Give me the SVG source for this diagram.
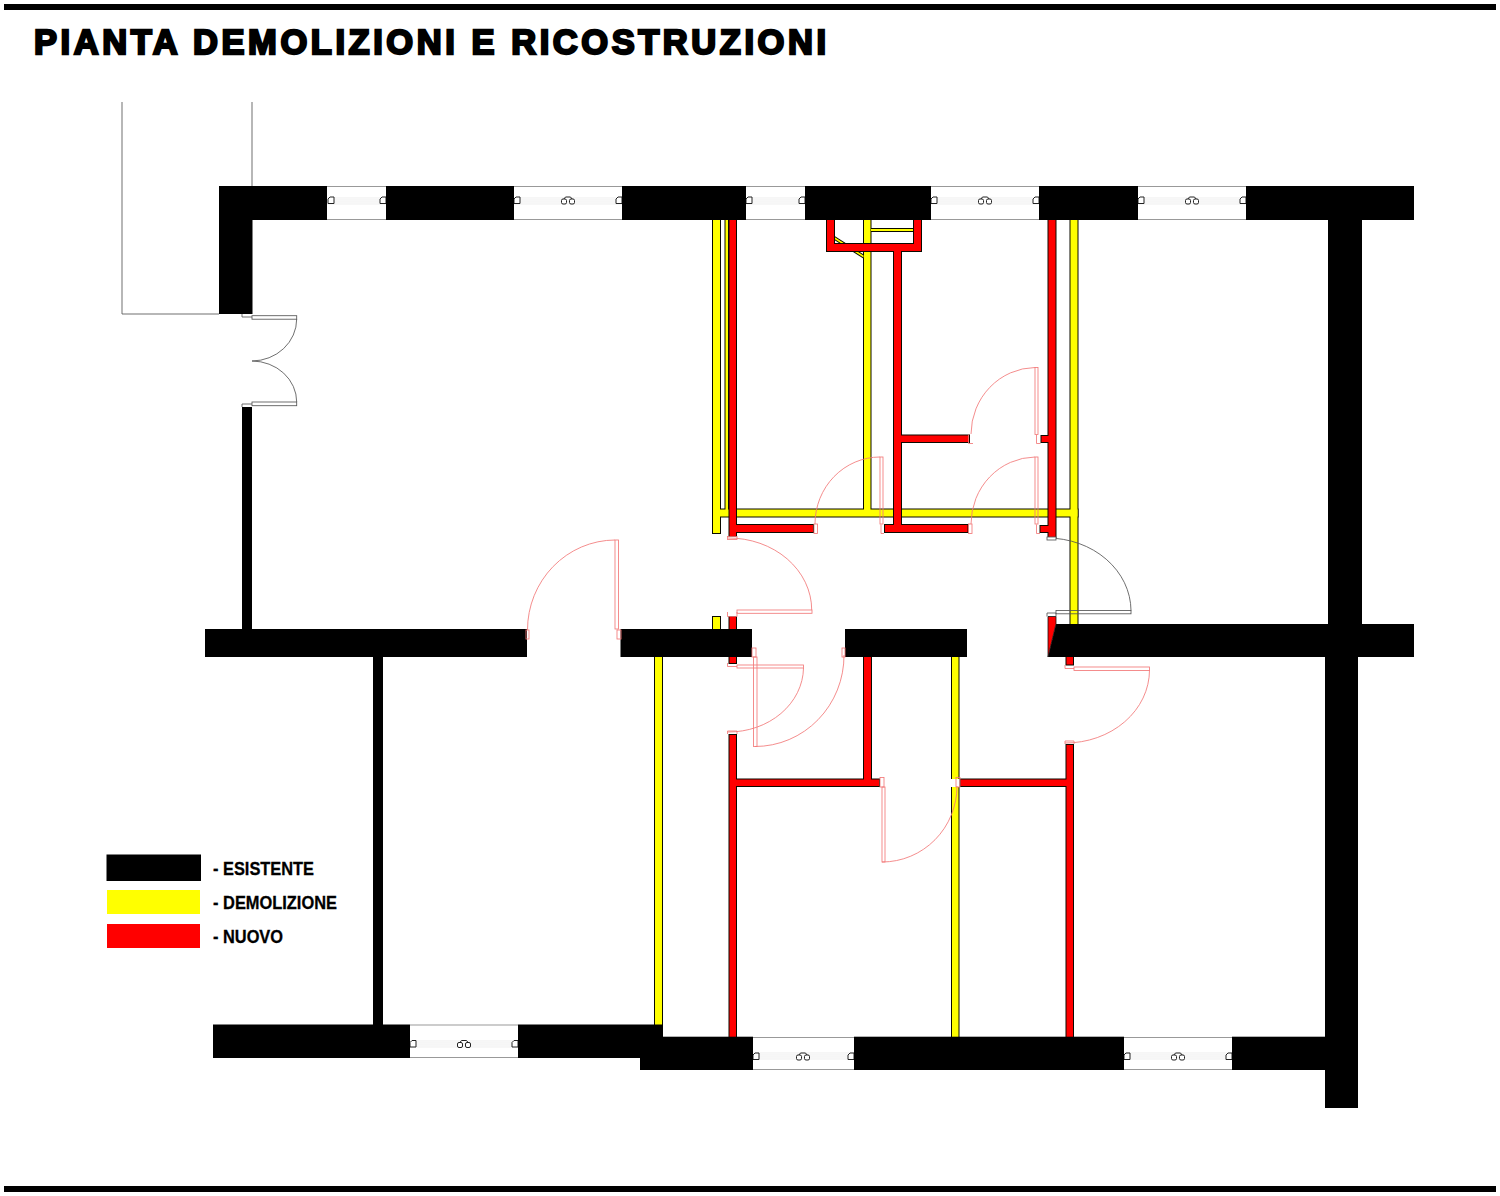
<svg xmlns="http://www.w3.org/2000/svg" xmlns:xlink="http://www.w3.org/1999/xlink" width="1500" height="1196" viewBox="0 0 1500 1196">
<style>
.k{fill:#000}
.y{fill:#ff0}
.r{fill:#f00}
.ol{stroke:#0a0a00;stroke-width:2;stroke-linejoin:miter}
.ds{fill:none;stroke:#f27878;stroke-width:.85}
.dk{fill:none;stroke:#555;stroke-width:.85}
.we{stroke:#999;stroke-width:1;fill:none}
.wl{stroke:#e2e2e2;stroke-width:.6;fill:none}
.hw{fill:#fff;stroke:#222;stroke-width:1}
.title{font-family:"Liberation Sans",Arial,sans-serif;font-weight:700;font-size:34.500px;fill:#000;stroke:#000;stroke-width:2.3px;stroke-linejoin:miter}
.leg{font-family:"Liberation Sans",Arial,sans-serif;font-weight:700;font-size:19px;fill:#000;stroke:#000;stroke-width:.3px}
</style>
<defs>
<path id="hinge" class="hw" d="M-3,-1.500 L-1,-3.500 L3,-3.500 L3,3 L-3,3 Z"/>
<g id="hinge2"><path class="hw" d="M-4.500,-1 L-2.500,-3.500 L2.500,-3.500 L4.500,-1"/><rect class="hw" x="-6.500" y="-1.500" width="5" height="5" rx="1.500"/><rect class="hw" x="1.500" y="-1.500" width="5" height="5" rx="1.500"/></g>
<g id="yw">
<rect x="713" y="220" width="7" height="313"/>
<rect x="725.500" y="220" width="2.500" height="290"/>
<rect x="864" y="220" width="6.500" height="295"/>
<rect x="713" y="509.500" width="364.500" height="7"/>
<rect x="1070.500" y="220" width="7" height="404"/>
<rect x="871" y="229" width="42" height="2"/>
<path d="M834.500,237 L863.500,255.500 L863.500,257.500 L834.500,239 Z"/>
<rect x="713" y="617" width="7" height="13"/>
<rect x="655" y="657" width="7" height="368"/>
<rect x="952" y="657" width="6.500" height="380"/>
</g>
<g id="rw">
<rect x="729.500" y="220" width="6.500" height="316"/>
<rect x="733" y="525" width="80" height="7"/>
<rect x="827" y="220" width="7" height="31"/>
<rect x="827" y="244" width="94" height="7"/>
<rect x="914" y="220" width="7" height="31"/>
<rect x="894" y="248" width="7" height="284"/>
<rect x="898" y="435.500" width="71" height="6.500"/>
<rect x="885" y="525" width="82.500" height="7"/>
<rect x="1048.500" y="220" width="7" height="317"/>
<rect x="1041.500" y="436" width="10" height="6"/>
<rect x="1040.500" y="526" width="10" height="6"/>
<rect x="729.500" y="617" width="6.500" height="46"/>
<rect x="729.500" y="735" width="6.500" height="302"/>
<rect x="733" y="779.500" width="146" height="6.500"/>
<rect x="864" y="657" width="7" height="125"/>
<rect x="960.500" y="779.500" width="108" height="6.500"/>
<rect x="1066.500" y="745" width="6.500" height="292"/>
<rect x="1066.500" y="657" width="6.500" height="7.500"/>
</g>
</defs>
<rect width="1500" height="1196" fill="#fff"/>
<rect class="k" x="4" y="4" width="1492" height="6"/>
<rect class="k" x="4" y="1186" width="1492" height="6"/>
<text class="title" x="34" y="53.500" textLength="792" lengthAdjust="spacing">PIANTA DEMOLIZIONI E RICOSTRUZIONI</text>

<g id="outer-lines" class="dk"><path d="M122,102 V314 H219"/><path d="M252,102 V186"/></g>

<g id="windows">
<g id="win1"><path class="we" d="M327,186.500 H386 M327,219.500 H386"/><path class="wl" d="M327,198 H386 M327,200 H386 M327,202 H386 M327,204 H386"/><use xlink:href="#hinge" x="331" y="200.500"/><use xlink:href="#hinge" x="383" y="200.500"/></g>
<g id="win2"><path class="we" d="M514,186.500 H622 M514,219.500 H622"/><path class="wl" d="M514,198 H622 M514,200 H622 M514,202 H622 M514,204 H622"/><use xlink:href="#hinge" x="517" y="200.500"/><use xlink:href="#hinge2" x="568" y="200.500"/><use xlink:href="#hinge" x="619" y="200.500"/></g>
<g id="win3"><path class="we" d="M746,186.500 H805 M746,219.500 H805"/><path class="wl" d="M746,198 H805 M746,200 H805 M746,202 H805 M746,204 H805"/><use xlink:href="#hinge" x="749" y="200.500"/><use xlink:href="#hinge" x="802" y="200.500"/></g>
<g id="win4"><path class="we" d="M931,186.500 H1039 M931,219.500 H1039"/><path class="wl" d="M931,198 H1039 M931,200 H1039 M931,202 H1039 M931,204 H1039"/><use xlink:href="#hinge" x="934" y="200.500"/><use xlink:href="#hinge2" x="985" y="200.500"/><use xlink:href="#hinge" x="1036" y="200.500"/></g>
<g id="win5"><path class="we" d="M1138,186.500 H1246 M1138,219.500 H1246"/><path class="wl" d="M1138,198 H1246 M1138,200 H1246 M1138,202 H1246 M1138,204 H1246"/><use xlink:href="#hinge" x="1141" y="200.500"/><use xlink:href="#hinge2" x="1192" y="200.500"/><use xlink:href="#hinge" x="1243" y="200.500"/></g>
<g id="win6"><path class="we" d="M410,1025 H518 M410,1057.500 H518"/><path class="wl" d="M410,1041 H518 M410,1043 H518 M410,1045 H518 M410,1047 H518"/><use xlink:href="#hinge" x="413" y="1044"/><use xlink:href="#hinge2" x="464" y="1044"/><use xlink:href="#hinge" x="515" y="1044"/></g>
<g id="win7"><path class="we" d="M753,1037.500 H854 M753,1069.500 H854"/><path class="wl" d="M753,1053 H854 M753,1055 H854 M753,1057 H854 M753,1059 H854"/><use xlink:href="#hinge" x="756" y="1056.500"/><use xlink:href="#hinge2" x="803" y="1056.500"/><use xlink:href="#hinge" x="851" y="1056.500"/></g>
<g id="win8"><path class="we" d="M1124,1037.500 H1232 M1124,1069.500 H1232"/><path class="wl" d="M1124,1053 H1232 M1124,1055 H1232 M1124,1057 H1232 M1124,1059 H1232"/><use xlink:href="#hinge" x="1127" y="1056.500"/><use xlink:href="#hinge2" x="1178" y="1056.500"/><use xlink:href="#hinge" x="1229" y="1056.500"/></g>
</g>

<g id="demolition-walls">
<use xlink:href="#yw" class="y ol"/>
<use xlink:href="#yw" class="y"/>
</g>
<g id="new-walls">
<use xlink:href="#rw" class="r ol"/>
<use xlink:href="#rw" class="r"/>
</g>
<rect id="door-gap" x="950" y="779" width="9.500" height="8" fill="#fff"/>

<g id="existing-walls" class="k">
<rect x="219" y="186" width="108" height="34"/>
<rect x="219" y="186" width="33.500" height="128"/>
<rect x="386" y="186" width="128" height="34"/>
<rect x="622" y="186" width="124" height="34"/>
<rect x="805" y="186" width="126" height="34"/>
<rect x="1039" y="186" width="99" height="34"/>
<rect x="1246" y="186" width="168" height="34"/>
<rect x="1328" y="220" width="34" height="404"/>
<rect x="242" y="407" width="10" height="222"/>
<rect x="205" y="629" width="322" height="28"/>
<rect x="620.500" y="629" width="131.500" height="28"/>
<rect x="845" y="629" width="122" height="28"/>
<path d="M1056,624 H1414 V657 H1048 Z"/>
<rect x="1325" y="657" width="33" height="451"/>
<rect x="373" y="657" width="10" height="368"/>
<rect x="213" y="1024.500" width="197" height="33.500"/>
<rect x="518" y="1024.500" width="145" height="33.500"/>
<rect x="640" y="1036.700" width="113" height="33.300"/>
<rect x="854" y="1036.700" width="270" height="33.300"/>
<rect x="1232" y="1036.700" width="93" height="33.300"/>
</g>
<path id="new-wedge" class="r" d="M1048,616.500 H1056 V624 L1048,657 Z" stroke="#111" stroke-width=".8"/>

<g id="doors-new" class="ds">
<g id="door-a"><rect x="615" y="540" width="3.500" height="89"/><path d="M615,540 A88,90 0 0 0 527.500,630"/><rect x="617" y="630" width="4" height="9"/><rect x="526" y="630" width="3" height="9"/></g>
<g id="door-b"><rect x="737" y="610" width="75" height="3.300"/><path d="M811.700,610 A83,72 0 0 0 728,538"/><rect x="727.500" y="536.500" width="9.500" height="3"/><path d="M727.500,612 V616.500 H737 V612"/></g>
<g id="door-c"><rect x="737" y="665" width="66.500" height="3"/><path d="M803.500,668 A75,65 0 0 1 728,732"/><path d="M727.500,663 V666.500 H737"/><path d="M727.500,734 V731 H737 V734"/></g>
<g id="door-d"><rect x="753.500" y="657" width="3.500" height="89.500"/><path d="M755,746.500 A89,91 0 0 0 844,655"/><rect x="752" y="648" width="4" height="9"/><rect x="842" y="648" width="3" height="9"/></g>
<g id="door-e"><rect x="882" y="787" width="3" height="75"/><path d="M882,862 A75,76 0 0 0 957,786"/><rect x="880" y="777.500" width="4" height="9.500"/><rect x="956" y="777.500" width="4" height="9.500"/></g>
<g id="door-f"><rect x="1074" y="667" width="75.500" height="3.500"/><path d="M1149.500,670 A84,73 0 0 1 1065,743"/><path d="M1065,665 V668.500 H1074"/><path d="M1065,744 V741 H1074 V744"/></g>
<g id="door-h"><rect x="1035" y="367.500" width="3" height="67"/><path d="M1035,367.500 A65,67 0 0 0 971,434"/><path d="M1040.500,443.500 H1036.500 V435"/><path d="M973,443.500 H968.500 V434.500"/></g>
<g id="door-i"><rect x="880" y="457" width="3" height="67"/><path d="M880,457 A65,67 0 0 0 815,524"/><path d="M884,533.500 H881 V524.500"/><rect x="814" y="524" width="3.500" height="9.500"/></g>
<g id="door-j"><rect x="1035" y="457" width="3" height="67"/><path d="M1035,457 A65,67 0 0 0 971,524"/><path d="M1040,533.500 H1036.500 V524.500"/><rect x="968.500" y="524" width="3.500" height="9.500"/></g>
</g>
<g id="doors-existing" class="dk">
<g id="door-g"><rect x="1056" y="610.500" width="75" height="3.300"/><path d="M1131,610.500 A84,73 0 0 0 1047,538"/><rect x="1047" y="537" width="9" height="3" fill="#fff"/><path d="M1047,616.500 V613 H1056 V616.500"/></g>
<g id="door-k"><rect x="252" y="315.700" width="44.700" height="3.500"/><path d="M296.700,319 A45,42 0 0 1 252,361"/><rect x="252" y="402" width="44.700" height="3.700"/><path d="M296.700,402 A45,41 0 0 0 252,361"/><path d="M242,314 V317 H252"/><path d="M242,407 V404 H252"/></g>
</g>

<g id="legend">
<rect class="k" x="106.500" y="854.500" width="94.500" height="26.500"/>
<rect class="y" x="107" y="890" width="93" height="24"/>
<rect class="r" x="107" y="924" width="93" height="24"/>
<text class="leg" x="213" y="875" textLength="101" lengthAdjust="spacingAndGlyphs">- ESISTENTE</text>
<text class="leg" x="213" y="909" textLength="124" lengthAdjust="spacingAndGlyphs">- DEMOLIZIONE</text>
<text class="leg" x="213" y="943" textLength="70" lengthAdjust="spacingAndGlyphs">- NUOVO</text>
</g>
</svg>
